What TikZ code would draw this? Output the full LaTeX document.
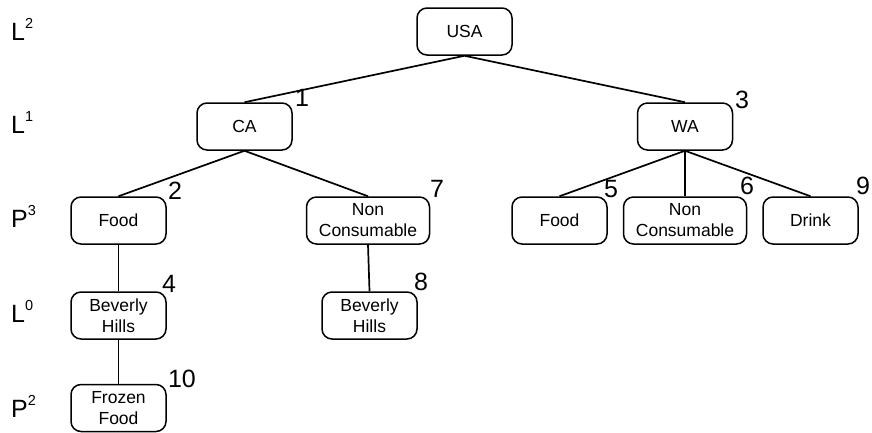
\documentclass[tikz,border=0pt]{standalone}
\usepackage{fontspec}
\setmainfont{Liberation Sans}
\begin{document}
\begin{tikzpicture}[x=1pt,y=-1pt,
  box/.style={draw,rounded corners=10pt,line width=1.5pt,minimum width=95pt,
    minimum height=47pt,align=center,inner sep=2pt,
    font=\fontsize{17.5}{21}\selectfont},
  wide/.style={box,minimum width=123pt},
  num/.style={inner sep=0pt,font=\fontsize{25}{25}\selectfont},
  lvl/.style={inner sep=0pt,anchor=base west,font=\fontsize{25}{25}\selectfont},
  link/.style={line width=1.7pt}]
\useasboundingbox (0,0) rectangle (872,432);

% level labels
\newcommand{\lvlsup}[1]{\raisebox{12pt}{\fontsize{14.5}{14.5}\selectfont #1}}
\node[lvl] (lv1) at (11,40)  {L\lvlsup{2}};
\node[lvl] (lv2) at (11,133) {L\lvlsup{1}};
\node[lvl] (lv3) at (11,227) {P\lvlsup{3}};
\node[lvl] (lv4) at (11,322) {L\lvlsup{0}};
\node[lvl] (lv5) at (11,417) {P\lvlsup{2}};

% hierarchy nodes
\node[box]  (usa)   at (464.5,31.5)  {USA};
\node[box]  (ca)    at (244.5,126.5) {CA};
\node[box]  (wa)    at (685,126.5)   {WA};
\node[box]  (foodL) at (118.5,220.5) {Food};
\node[wide] (ncL)   at (368,220.5)   {Non\\Consumable};
\node[box]  (foodR) at (559.5,220.5) {Food};
\node[wide] (ncR)   at (685,220.5)   {Non\\Consumable};
\node[box]  (drink) at (810.5,220.5) {Drink};
\node[box]  (bhL)   at (118.5,315.5) {Beverly\\Hills};
\node[box]  (bhM)   at (369.5,315.5) {Beverly\\Hills};
\node[box]  (ff)    at (118.5,408)   {Frozen\\Food};

% connectors
\draw[link] (usa.south) -- (ca.north);
\draw[link] (usa.south) -- (wa.north);
\draw[link] (ca.south) -- (foodL.north);
\draw[link] (ca.south) -- (ncL.north);
\draw[link] (wa.south) -- (foodR.north);
\draw[link] (wa.south) -- (ncR.north);
\draw[link] (wa.south) -- (drink.north);
\draw[link] (foodL.south) -- (bhL.north);
\draw[link] (ncL.south) -- (bhM.north);
\draw[link] (bhL.south) -- (ff.north);

% ordering numbers
\node[num] (n1)  at (302,98)    {1};
\node[num] (n2)  at (175,190.5) {2};
\node[num] (n3)  at (742,100)   {3};
\node[num] (n4)  at (169,284)   {4};
\node[num] (n5)  at (611,189)   {5};
\node[num] (n6)  at (747,186)   {6};
\node[num] (n7)  at (437,189)   {7};
\node[num] (n8)  at (421,281.5) {8};
\node[num] (n9)  at (863,186)   {9};
\node[num] (n10) at (182,379)   {10};
\end{tikzpicture}
\end{document}
